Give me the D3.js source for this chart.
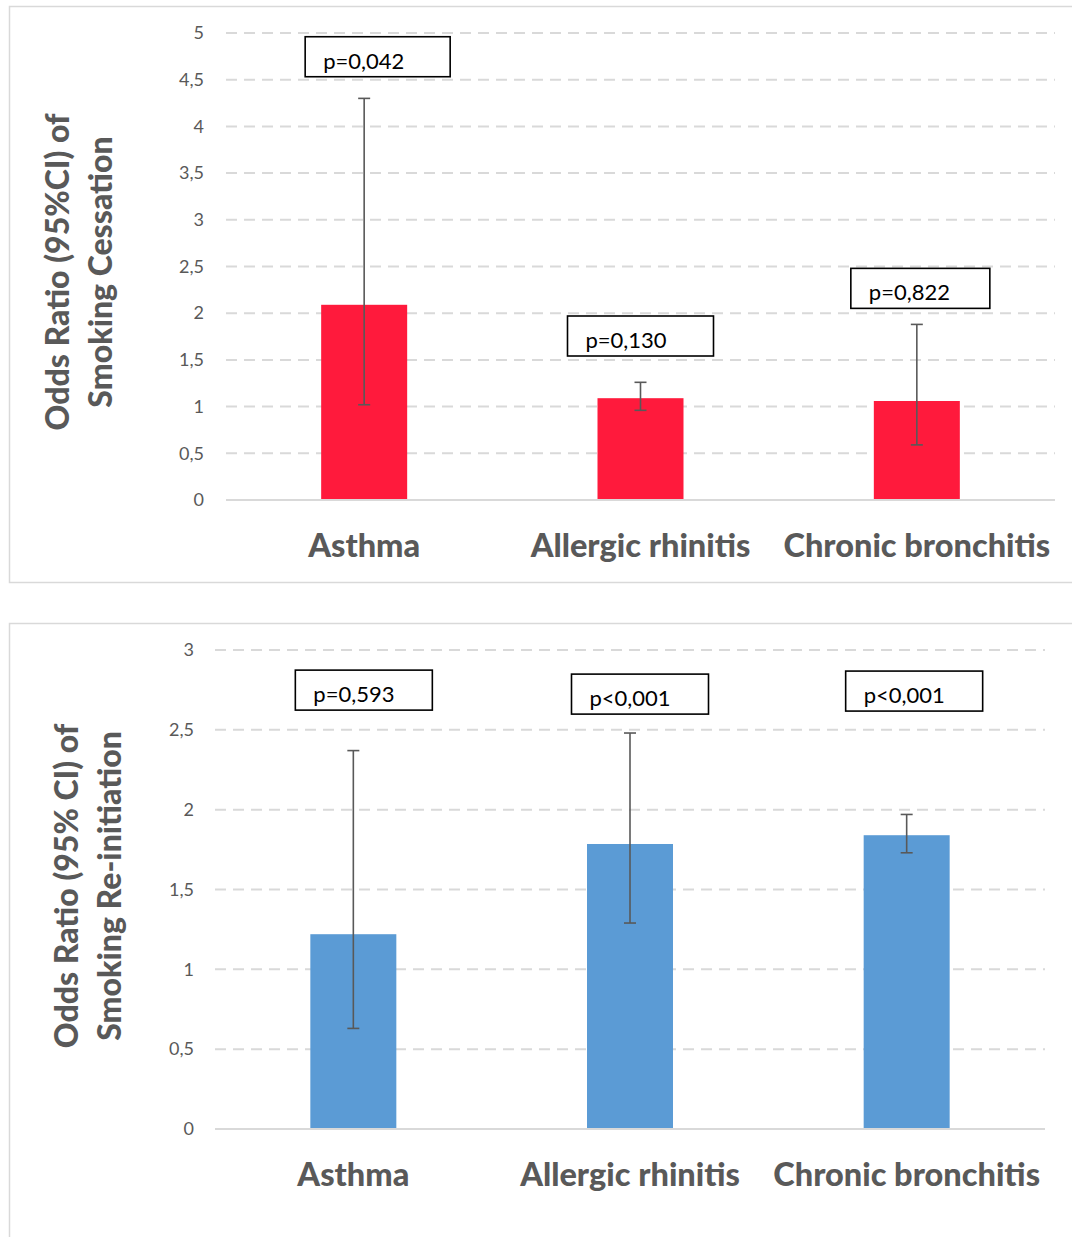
<!DOCTYPE html>
<html>
<head>
<meta charset="utf-8">
<script src="https://cdn.jsdelivr.net/npm/d3@7"></script>
<style>
  html, body { margin: 0; padding: 0; background: #fff; }
  svg { display: block; font-family: Lato, "Open Sans", sans-serif; }
</style>
</head>
<body>
<svg id="chart" width="1072" height="1237"></svg>
<script>
// Respiratory conditions compared in both panels
const categories = ["Asthma", "Allergic rhinitis", "Chronic bronchitis"];

// Panel 1: odds ratio of smoking cessation (95% CI)
const cessationOR    = [2.09, 1.09, 1.06];
const cessationLower = [1.02, 0.96, 0.59];
const cessationUpper = [4.30, 1.26, 1.88];
const cessationP     = ["p=0,042", "p=0,130", "p=0,822"];
const cessationTicks = [0, 0.5, 1, 1.5, 2, 2.5, 3, 3.5, 4, 4.5, 5];

// Panel 2: odds ratio of smoking re-initiation (95% CI)
const reinitOR    = [1.22, 1.785, 1.84];
const reinitLower = [0.63, 1.29, 1.73];
const reinitUpper = [2.37, 2.48, 1.97];
const reinitP     = ["p=0,593", "p<0,001", "p<0,001"];
const reinitTicks = [0, 0.5, 1, 1.5, 2, 2.5, 3];

// Comma decimal separator for tick labels
const fmt = d => String(d).replace(".", ",");

const svg = d3.select("#chart");

function drawPanel(cfg) {
  const g = svg.append("g");

  // panel frame
  g.append("rect")
    .attr("x", cfg.frame.x + 0.5).attr("y", cfg.frame.y + 0.5)
    .attr("width", cfg.frame.w).attr("height", cfg.frame.h)
    .attr("fill", "none").attr("stroke", "#d9d9d9").attr("stroke-width", 1.5);

  const x = d3.scaleBand()
    .domain(categories)
    .range([cfg.left, cfg.right]);
  const y = d3.scaleLinear()
    .domain([0, d3.max(cfg.ticks)])
    .range([cfg.bottom, cfg.top]);

  // dashed gridlines
  g.append("g").selectAll("line")
    .data(cfg.ticks.filter(t => t > 0))
    .join("line")
    .attr("x1", cfg.left).attr("x2", cfg.right)
    .attr("y1", d => y(d)).attr("y2", d => y(d))
    .attr("stroke", "#d9d9d9").attr("stroke-width", 2)
    .attr("stroke-dasharray", "11,7");

  // y axis labels
  const yAxis = g.append("g")
    .attr("transform", `translate(${cfg.left},0)`)
    .call(d3.axisLeft(y).tickValues(cfg.ticks).tickFormat(fmt).tickSize(0).tickPadding(cfg.tickPad));
  yAxis.select(".domain").remove();
  yAxis.selectAll("text")
    .attr("fill", "#595959")
    .style("font-family", "Lato, sans-serif")
    .style("font-size", "18px");

  // bars
  const barW = cfg.barW;
  g.append("g").selectAll("rect")
    .data(cfg.values)
    .join("rect")
    .attr("x", (d, i) => x(categories[i]) + x.bandwidth() / 2 - barW / 2)
    .attr("y", d => y(d))
    .attr("width", barW)
    .attr("height", d => y(0) - y(d))
    .attr("fill", cfg.color);

  // baseline
  g.append("line")
    .attr("x1", cfg.left).attr("x2", cfg.right)
    .attr("y1", y(0)).attr("y2", y(0))
    .attr("stroke", "#d9d9d9").attr("stroke-width", 2);

  // error bars
  const eb = g.append("g").attr("stroke", "#595959").attr("stroke-width", 1.6);
  categories.forEach((c, i) => {
    const cx = x(c) + x.bandwidth() / 2;
    eb.append("line").attr("x1", cx).attr("x2", cx)
      .attr("y1", y(cfg.lower[i])).attr("y2", y(cfg.upper[i]));
    [cfg.lower[i], cfg.upper[i]].forEach(v => {
      eb.append("line").attr("x1", cx - 6).attr("x2", cx + 6)
        .attr("y1", y(v)).attr("y2", y(v));
    });
  });

  // p-value boxes
  categories.forEach((c, i) => {
    const b = cfg.boxes[i];
    const cx = x(c) + x.bandwidth() / 2 + b.dx;
    const by = y(b.top);
    g.append("rect")
      .attr("x", cx - b.w / 2).attr("y", by)
      .attr("width", b.w).attr("height", 40)
      .attr("fill", "#fff").attr("stroke", "#000").attr("stroke-width", 1.6);
    g.append("text")
      .attr("x", cx - b.w / 2 + 18).attr("y", by + 32)
      .attr("fill", "#000")
      .style("font-size", "22px")
      .text(cfg.pLabels[i]);
  });

  // category labels
  const xAxis = g.append("g")
    .attr("transform", `translate(0,${cfg.bottom})`)
    .call(d3.axisBottom(x).tickSize(0).tickPadding(0));
  xAxis.select(".domain").remove();
  xAxis.selectAll("text")
    .attr("dy", null)
    .attr("y", 57)
    .attr("fill", "#595959")
    .style("font-family", "Lato, sans-serif")
    .style("font-weight", "900")
    .style("font-size", "32.5px");

  // y axis title (two lines, rotated)
  cfg.title.forEach((line, k) => {
    g.append("text")
      .attr("transform", `translate(${cfg.titleX[k]},${cfg.titleY}) rotate(-90)`)
      .attr("text-anchor", "middle")
      .attr("dominant-baseline", "central")
      .attr("fill", "#595959")
      .style("font-weight", "900")
      .style("font-size", "32px")
      .text(line);
  });
}

drawPanel({
  frame: { x: 9, y: 6, w: 1080, h: 576 },
  left: 226, right: 1055, top: 33, bottom: 500,
  ticks: cessationTicks, tickPad: 22,
  values: cessationOR, lower: cessationLower, upper: cessationUpper,
  pLabels: cessationP, color: "#ff1a3c", barW: 86,
  boxes: [ { dx: 13.5, top: 4.96, w: 145 },
           { dx: 0,    top: 1.97, w: 146 },
           { dx: 3.5,  top: 2.48, w: 139 } ],
  title: ["Odds Ratio (95%CI) of", "Smoking Cessation"],
  titleX: [56, 99], titleY: 272
});

drawPanel({
  frame: { x: 9, y: 623, w: 1080, h: 640 },
  left: 215, right: 1045, top: 650, bottom: 1129,
  ticks: reinitTicks, tickPad: 21,
  values: reinitOR, lower: reinitLower, upper: reinitUpper,
  pLabels: reinitP, color: "#5b9bd5", barW: 86,
  boxes: [ { dx: 10.5, top: 2.874, w: 137 },
           { dx: 10,   top: 2.849, w: 137 },
           { dx: 7.5,  top: 2.868, w: 137 } ],
  title: ["Odds Ratio (95% CI) of", "Smoking Re-initiation"],
  titleX: [65, 108], titleY: 886
});
</script>
</body>
</html>
